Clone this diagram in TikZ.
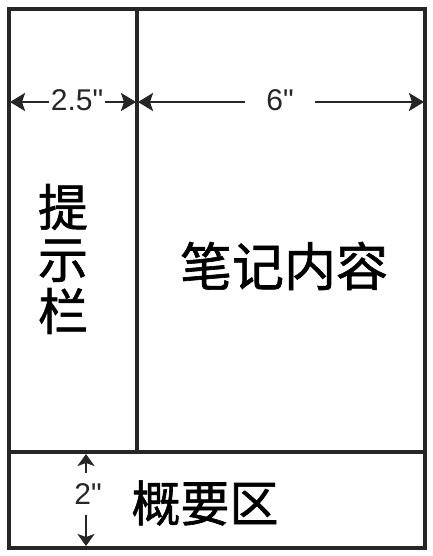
\documentclass[tikz,border=0pt]{standalone}
\usepackage{fontspec}
\setmainfont{Liberation Sans}[Ligatures=TeXOff]
\newfontfamily\cjk{Noto Sans CJK SC}[FakeBold=1.2]
\usetikzlibrary{arrows.meta}

\begin{document}
\begin{tikzpicture}[x=1pt, y=-1pt,
  frame/.style={draw=black!85, line width=3.2pt},
  dim/.style={draw=black!85, line width=2.6pt, -{Stealth[length=15pt,width=18pt,inset=3pt]}},
  vdim/.style={dim, -{Stealth[length=12pt,width=17pt,inset=3pt]}},
  num/.style={font=\fontsize{30}{30}\selectfont, text=black!85, inner sep=2pt},
  zone/.style={font=\cjk\fontsize{50}{52}\selectfont, inner sep=0pt, align=center}]
	\useasboundingbox (0,0) rectangle (432,556);
	% page outline and the three parts
	\coordinate (tl) at (9,9);
	\coordinate (br) at (425,548);
	\coordinate (cueT) at (137,9);
	\coordinate (cueB) at (137,452);
	\coordinate (sumL) at (9,452);
	\coordinate (sumR) at (425,452);
	\draw[frame] (tl) rectangle (br);
	\draw[frame] (cueT) -- (cueB);
	\draw[frame] (sumL) -- (sumR);
	% widths
	\coordinate (wL) at (10,102);
	\coordinate (wM) at (136,102);
	\coordinate (wM2) at (138,102);
	\coordinate (wR) at (424,102);
	\node[num] (w25) at (77,100) {2.5"};
	\node[num, inner xsep=21pt] (w6) at (280,100) {6"};
	\draw[dim] (w25.west |- wL) -- (wL);
	\draw[dim] (w25.east |- wM) -- (wM);
	\draw[dim] (w6.west |- wM2) -- (wM2);
	\draw[dim] (w6.east |- wR) -- (wR);
	% height of the summary
	\coordinate (hT) at (86,454);
	\coordinate (hB) at (86,546);
	\node[num, inner ysep=10pt] (h2) at (88,494) {2"};
	\draw[vdim] (h2.north -| hT) -- (hT);
	\draw[vdim] (h2.south -| hB) -- (hB);
	% names of the parts
	\node[zone] (cue) at (63,259) {提\\示\\栏};
	\node[zone, font=\cjk\fontsize{52}{52}\selectfont] (notes) at (284,266) {笔记内容};
	\node[zone, font=\cjk\fontsize{49}{49}\selectfont] (summary) at (205,503) {概要区};
\end{tikzpicture}
\end{document}
